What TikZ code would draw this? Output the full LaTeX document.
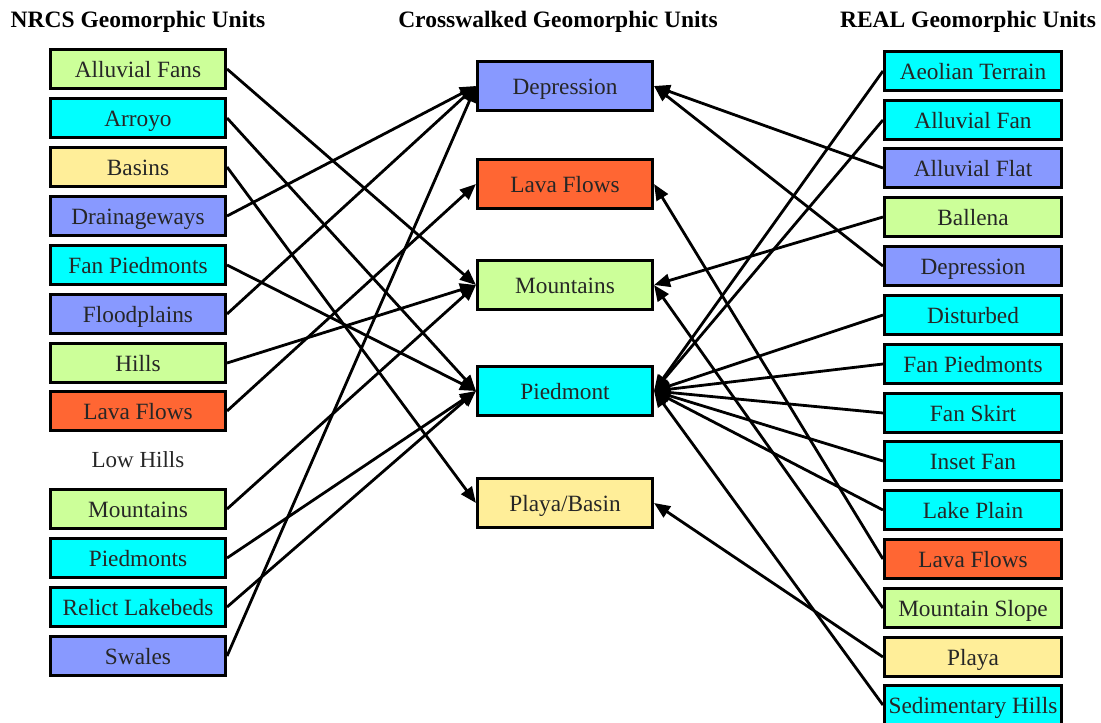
\documentclass[tikz,border=0pt]{standalone}
\usepackage{fontspec}
\setmainfont{Liberation Serif}
\usetikzlibrary{arrows.meta}
\definecolor{cgreen}{HTML}{CCFF99}
\definecolor{ccyan}{HTML}{00FFFF}
\definecolor{cyellow}{HTML}{FFEE99}
\definecolor{cblue}{HTML}{8899FF}
\definecolor{corange}{HTML}{FF6633}
\begin{document}
\begin{tikzpicture}[x=1pt,y=-1pt,
  box/.style={draw=black,line width=2.6pt,minimum width=175.5pt,minimum height=38.5pt,inner sep=0pt,
    text height=19pt,text depth=3pt,
    font=\fontsize{23.3}{27}\selectfont,text=black!85},
  rbox/.style={box,minimum width=177.5pt},
  mbox/.style={box,minimum height=48.5pt},
  conn/.style={line width=2.8pt,-{Triangle[length=16pt,width=13pt]}},
  hdr/.style={font=\fontsize{23.5}{27}\selectfont\bfseries,inner sep=0pt},
  plain/.style={font=\fontsize{23}{27}\selectfont,text=black!85,inner sep=0pt}]
\useasboundingbox (0,0) rectangle (1101,723);
% headers
\node[hdr] (h1) at (138,22) {NRCS Geomorphic Units};
\node[hdr] (h2) at (558,22) {Crosswalked Geomorphic Units};
\node[hdr] (h3) at (968,22) {REAL Geomorphic Units};
% left column
\node[box,fill=cgreen]  (lAF) at (138,69)  {Alluvial Fans};
\node[box,fill=ccyan]   (lAr) at (138,118) {Arroyo};
\node[box,fill=cyellow] (lBa) at (138,167) {Basins};
\node[box,fill=cblue]   (lDr) at (138,216) {Drainageways};
\node[box,fill=ccyan]   (lFP) at (138,265) {Fan Piedmonts};
\node[box,fill=cblue]   (lFl) at (138,314) {Floodplains};
\node[box,fill=cgreen]  (lHi) at (138,363) {Hills};
\node[box,fill=corange] (lLF) at (138,411) {Lava Flows};
\node[plain]            (lLH) at (138,460) {Low Hills};
\node[box,fill=cgreen]  (lMo) at (138,509) {Mountains};
\node[box,fill=ccyan]   (lPi) at (138,558) {Piedmonts};
\node[box,fill=ccyan]   (lRL) at (138,607) {Relict Lakebeds};
\node[box,fill=cblue]   (lSw) at (138,656) {Swales};
% middle column
\node[mbox,fill=cblue]   (mDe) at (565,86)  {Depression};
\node[mbox,fill=corange] (mLF) at (565,184) {Lava Flows};
\node[mbox,fill=cgreen]  (mMo) at (565,285) {Mountains};
\node[mbox,fill=ccyan]   (mPi) at (565,391) {Piedmont};
\node[mbox,fill=cyellow] (mPB) at (565,503) {Playa/Basin};
% right column
\node[rbox,fill=ccyan]   (rAT)  at (973,71)  {Aeolian Terrain};
\node[rbox,fill=ccyan]   (rAFa) at (973,120) {Alluvial Fan};
\node[rbox,fill=cblue]   (rAFl) at (973,168) {Alluvial Flat};
\node[rbox,fill=cgreen]  (rBa)  at (973,217) {Ballena};
\node[rbox,fill=cblue]   (rDe)  at (973,266) {Depression};
\node[rbox,fill=ccyan]   (rDi)  at (973,315) {Disturbed};
\node[rbox,fill=ccyan]   (rFP)  at (973,364) {Fan Piedmonts};
\node[rbox,fill=ccyan]   (rFS)  at (973,413) {Fan Skirt};
\node[rbox,fill=ccyan]   (rIF)  at (973,461) {Inset Fan};
\node[rbox,fill=ccyan]   (rLP)  at (973,510) {Lake Plain};
\node[rbox,fill=corange] (rLF)  at (973,559) {Lava Flows};
\node[rbox,fill=cgreen]  (rMS)  at (973,608) {Mountain Slope};
\node[rbox,fill=cyellow] (rPl)  at (973,657) {Playa};
\node[rbox,fill=ccyan]   (rSH)  at (973,705) {Sedimentary Hills};
% left connectors
\draw[conn] (lAF.east) -- (mMo.west);
\draw[conn] (lAr.east) -- (mPi.west);
\draw[conn] (lBa.east) -- (mPB.west);
\draw[conn] (lDr.east) -- (mDe.west);
\draw[conn] (lFP.east) -- (mPi.west);
\draw[conn] (lFl.east) -- (mDe.west);
\draw[conn] (lHi.east) -- (mMo.west);
\draw[conn] (lLF.east) -- (mLF.west);
\draw[conn] (lMo.east) -- (mMo.west);
\draw[conn] (lPi.east) -- (mPi.west);
\draw[conn] (lRL.east) -- (mPi.west);
\draw[conn] (lSw.east) -- (mDe.west);
% right connectors
\draw[conn] (rAT.west)  -- (mPi.east);
\draw[conn] (rAFa.west) -- (mPi.east);
\draw[conn] (rAFl.west) -- (mDe.east);
\draw[conn] (rBa.west)  -- (mMo.east);
\draw[conn] (rDe.west)  -- (mDe.east);
\draw[conn] (rDi.west)  -- (mPi.east);
\draw[conn] (rFP.west)  -- (mPi.east);
\draw[conn] (rFS.west)  -- (mPi.east);
\draw[conn] (rIF.west)  -- (mPi.east);
\draw[conn] (rLP.west)  -- (mPi.east);
\draw[conn] (rLF.west)  -- (mLF.east);
\draw[conn] (rMS.west)  -- (mMo.east);
\draw[conn] (rPl.west)  -- (mPB.east);
\draw[conn] (rSH.west)  -- (mPi.east);
\end{tikzpicture}
\end{document}
